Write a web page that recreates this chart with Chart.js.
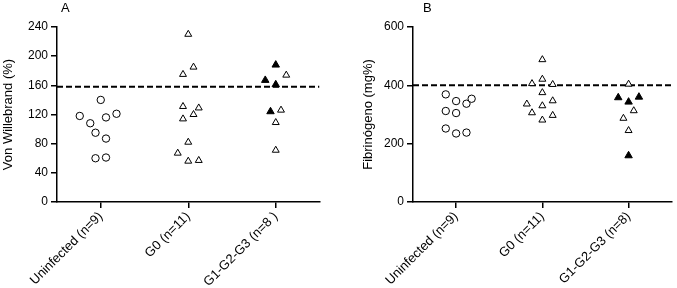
<!DOCTYPE html>
<html>
<head>
<meta charset="utf-8">
<script src="https://cdn.jsdelivr.net/npm/chart.js@4.4.0/dist/chart.umd.min.js"></script>
<style>
  body { margin: 0; background: #fff; }
  canvas { position: absolute; top: 0; }
  #chartA { left: 0; }
  #chartB { left: 340px; }
</style>
</head>
<body>
<canvas id="chartA" width="340" height="288"></canvas>
<canvas id="chartB" width="337" height="288"></canvas>
<script>
// categories
const groupsA = ['Uninfected (n=9)', 'G0 (n=11)', 'G1-G2-G3 (n=8 )'];
const groupsB = ['Uninfected (n=9)', 'G0 (n=11)', 'G1-G2-G3 (n=8)'];

// Panel A: Von Willebrand (%)
const vwfUninf = [118, 108, 95, 140, 116, 87, 121, 60, 61];
const vwfUninfJit = [-0.24, -0.12, -0.06, 0, 0.06, 0.06, 0.18, -0.06, 0.06];
const vwfG0 = [230, 175, 185, 131, 129, 114, 120, 82, 67, 56, 57];
const vwfG0Jit = [0, -0.06, 0.06, -0.06, 0.12, -0.06, 0.06, 0, -0.12, 0, 0.12];
const vwfG123Open = [174, 126, 109, 71];
const vwfG123OpenJit = [0.12, 0.06, 0, 0];
const vwfG123Filled = [188, 167, 161, 124];
const vwfG123FilledJit = [0, -0.12, 0, -0.06];
const vwfRef = 158;
const vwfTicks = [0, 240, 40];

// Panel B: Fibrinogeno (mg%)
const fibUninf = [369, 346, 337, 354, 312, 305, 252, 235, 238];
const fibUninfJit = [-0.12, 0, 0.12, 0.18, -0.12, 0, -0.12, 0, 0.12];
const fibG0 = [488, 406, 421, 403, 375, 336, 347, 330, 306, 297, 281];
const fibG0Jit = [0, -0.12, 0, 0.12, 0, -0.18, 0.12, 0, -0.12, 0.12, 0];
const fibG123Open = [404, 313, 287, 245];
const fibG123OpenJit = [0, 0.06, -0.06, 0];
const fibG123Filled = [358, 343, 360, 159];
const fibG123FilledJit = [-0.12, 0, 0.12, 0];
const fibRef = 400;
const fibTicks = [0, 600, 200];

Chart.defaults.font.family = '"Liberation Sans", Arial, sans-serif';
Chart.defaults.font.size = 12;
Chart.defaults.color = '#000';

function pts(group, values, jitter) {
  return values.map((v, i) => ({ x: group + jitter[i], y: v }));
}

function marks(data, style, fill, r) {
  return {
    type: 'scatter',
    data: data,
    pointStyle: style,
    pointRadius: r,
    pointHoverRadius: r,
    backgroundColor: fill,
    borderColor: '#000',
    borderWidth: 1
  };
}

const panelLetter = {
  id: 'panelLetter',
  afterDraw(chart, args, opts) {
    const ctx = chart.ctx;
    ctx.save();
    ctx.font = '13px "Liberation Sans", Arial, sans-serif';
    ctx.fillStyle = '#000';
    ctx.textBaseline = 'top';
    ctx.fillText(opts.text, opts.x, opts.y);
    ctx.restore();
  }
};

function makeChart(id, cfg) {
  return new Chart(document.getElementById(id), {
    data: {
      datasets: [
        marks(pts(0, cfg.uninf, cfg.uninfJit), 'circle', '#fff', 3.7),
        marks(pts(1, cfg.g0, cfg.g0Jit), 'triangle', '#fff', 4),
        marks(pts(2, cfg.open, cfg.openJit), 'triangle', '#fff', 4),
        marks(pts(2, cfg.filled, cfg.filledJit), 'triangle', '#000', 4.3),
        {
          type: 'line',
          data: [{ x: -0.5, y: cfg.ref }, { x: 2.5, y: cfg.ref }],
          borderColor: '#000',
          borderWidth: 2,
          borderDash: [6, 3],
          pointRadius: 0
        }
      ]
    },
    options: {
      responsive: false,
      animation: false,
      layout: { padding: { left: 0, right: cfg.padRight, top: 27, bottom: 0 } },
      plugins: {
        legend: { display: false },
        tooltip: { enabled: false },
        panelLetter: { text: cfg.letter, x: cfg.letterX, y: 2 }
      },
      scales: {
        x: {
          type: 'linear',
          min: -0.5,
          max: 2.5,
          afterBuildTicks: s => { s.ticks = cfg.groups.map((g, i) => ({ value: i })); },
          afterFit: s => { s.height = 86; },
          ticks: {
            callback: v => cfg.groups[v],
            maxRotation: 45,
            minRotation: 45,
            padding: 1,
            font: { size: 13 }
          },
          grid: { display: true, drawOnChartArea: false, drawTicks: true, tickLength: 6, color: '#000', lineWidth: 1.5 },
          border: { display: true, color: '#000', width: 1.5 }
        },
        y: {
          min: cfg.ticks[0],
          max: cfg.ticks[1],
          afterFit: s => { s.width = cfg.yWidth; },
          ticks: { stepSize: cfg.ticks[2], padding: 3, font: { size: 12 } },
          grid: { display: true, drawOnChartArea: false, drawTicks: true, tickLength: 6, color: '#000', lineWidth: 1.5 },
          border: { display: true, color: '#000', width: 1.5 },
          title: { display: true, text: cfg.title, font: { size: 13 }, padding: { top: cfg.titlePad, bottom: 0 } }
        }
      }
    },
    plugins: [panelLetter]
  });
}

makeChart('chartA', {
  groups: groupsA, uninf: vwfUninf, uninfJit: vwfUninfJit, g0: vwfG0, g0Jit: vwfG0Jit,
  open: vwfG123Open, openJit: vwfG123OpenJit, filled: vwfG123Filled, filledJit: vwfG123FilledJit,
  ref: vwfRef, ticks: vwfTicks, title: 'Von Willebrand (%)', titlePad: 1,
  yWidth: 57, padRight: 20.5, letter: 'A', letterX: 61
});

makeChart('chartB', {
  groups: groupsB, uninf: fibUninf, uninfJit: fibUninfJit, g0: fibG0, g0Jit: fibG0Jit,
  open: fibG123Open, openJit: fibG123OpenJit, filled: fibG123Filled, filledJit: fibG123FilledJit,
  ref: fibRef, ticks: fibTicks, title: 'Fibrinógeno (mg%)', titlePad: 21,
  yWidth: 73, padRight: 0, letter: 'B', letterX: 83
});
</script>
</body>
</html>
